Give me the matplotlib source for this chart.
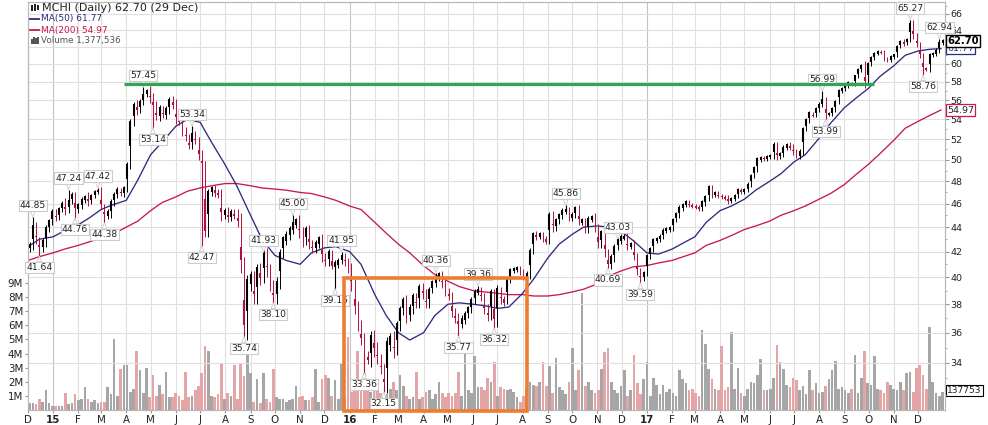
import matplotlib
matplotlib.use("Agg")
import matplotlib.pyplot as plt
import numpy as np
import pandas as pd
from matplotlib.patches import Rectangle
from matplotlib.ticker import FixedLocator, NullFormatter, FixedFormatter

# closing prices, one bar every four calendar days
closes = [
    42.5, 44.0, 43.0, 42.3, 42.8, 43.8, 44.5, 45.2, 44.8, 45.5,
    46.0, 45.5, 46.2, 46.8, 45.5, 45.8, 46.3, 46.6, 46.2, 46.7,
    47.0, 47.2, 45.8, 45.0, 45.2, 46.0, 46.8, 47.2, 46.9, 47.3,
    49.5, 53.6, 55.5, 55.0, 55.8, 56.5, 57.0, 56.2, 55.5, 54.3,
    55.0, 54.5, 54.9, 56.0, 55.6, 54.0, 53.7, 52.8, 52.2, 51.3,
    52.5, 51.8, 50.4, 49.6, 43.5, 47.0, 47.3, 47.0, 46.8, 45.0,
    45.3, 44.8, 45.2, 45.0, 44.5, 41.0, 36.2, 39.5, 40.0, 38.5,
    40.5, 40.0, 41.8, 40.5, 39.5, 38.5, 39.5, 41.8, 43.0, 43.2,
    43.8, 44.2, 44.5, 43.6, 42.8, 43.8, 42.6, 42.2, 42.6, 43.0,
    41.6, 41.2, 41.9, 40.8, 41.0, 41.2, 41.6, 41.2, 40.6, 39.5,
    37.7, 36.6, 35.5, 34.5, 34.2, 35.6, 35.0, 34.3, 33.6, 32.6,
    35.2, 35.6, 34.8, 36.5, 37.5, 38.2, 37.2, 37.6, 38.5, 38.0,
    39.2, 38.8, 38.0, 39.0, 39.6, 39.9, 40.2, 39.5, 38.9, 38.6,
    37.4, 37.0, 36.6, 36.9, 37.2, 37.7, 38.2, 38.9, 39.0, 38.5,
    37.6, 37.2, 38.8, 36.8, 39.0, 38.3, 38.2, 39.8, 40.5, 40.6,
    40.7, 40.4, 40.0, 40.2, 42.0, 43.4, 43.2, 43.4, 43.0, 42.9,
    45.0, 44.0, 44.5, 45.0, 45.3, 45.4, 44.8, 45.0, 45.6, 44.5,
    44.5, 43.8, 44.6, 44.8, 44.0, 42.6, 43.5, 42.0, 40.9, 41.5,
    42.3, 42.9, 43.1, 43.2, 42.4, 42.6, 41.6, 40.5, 39.9, 40.3,
    41.6, 42.2, 42.9, 43.0, 43.2, 43.7, 43.8, 43.9, 44.6, 45.1,
    45.6, 45.9, 46.1, 45.9, 45.8, 45.7, 45.6, 46.1, 46.5, 47.4,
    46.8, 46.9, 46.7, 46.6, 46.5, 46.3, 46.4, 46.7, 47.2, 47.1,
    47.2, 47.7, 48.5, 49.2, 50.0, 50.2, 50.1, 50.3, 50.4, 51.4,
    50.3, 50.6, 51.1, 51.4, 51.2, 50.8, 50.4, 50.7, 53.0, 53.9,
    54.6, 54.4, 55.1, 55.5, 56.0, 54.5, 54.6, 55.0, 55.8, 57.0,
    57.2, 57.6, 57.8, 57.7, 58.6, 59.3, 59.8, 57.8, 60.0, 60.7,
    61.2, 61.4, 61.3, 60.6, 60.4, 60.8, 61.0, 62.0, 62.6, 62.4,
    62.8, 64.8, 63.3, 62.3, 61.0, 59.5, 59.4, 61.0, 61.2, 61.5,
    62.4, 62.7,
]

# how far the thin wicks reach past each bar's body
wicks = [
    0.3, 0.4, 0.4, 0.2, 0.3, 0.4, 0.2, 0.3, 0.3, 0.2,
    0.2, 0.5, 0.3, 0.2, 0.2, 0.3, 0.3, 0.2, 0.4, 0.2,
    0.2, 0.1, 0.3, 0.2, 0.3, 0.4, 0.2, 0.3, 0.2, 0.3,
    0.3, 0.4, 0.3, 0.5, 0.3, 0.3, 0.2, 0.5, 0.6, 0.4,
    0.5, 0.4, 0.5, 0.3, 0.5, 0.5, 0.3, 0.5, 0.4, 0.3,
    0.3, 0.3, 0.4, 0.5, 0.3, 0.3, 0.3, 0.4, 0.3, 0.5,
    0.3, 0.4, 0.3, 0.3, 0.5, 0.7, 0.6, 0.7, 0.5, 0.5,
    0.5, 0.6, 0.4, 0.5, 0.5, 0.3, 0.5, 0.4, 0.3, 0.5,
    0.3, 0.4, 0.3, 0.5, 0.4, 0.3, 0.4, 0.3, 0.3, 0.3,
    0.4, 0.3, 0.3, 0.2, 0.3, 0.3, 0.2, 0.3, 0.3, 0.5,
    0.4, 0.5, 0.3, 0.5, 0.3, 0.5, 0.6, 0.4, 0.3, 0.3,
    0.5, 0.4, 0.5, 0.3, 0.4, 0.3, 0.5, 0.4, 0.3, 0.3,
    0.3, 0.4, 0.3, 0.3, 0.2, 0.3, 0.2, 0.3, 0.3, 0.3,
    0.3, 0.3, 0.4, 0.3, 0.3, 0.2, 0.3, 0.2, 0.2, 0.3,
    0.3, 0.4, 0.3, 0.3, 0.4, 0.3, 0.3, 0.2, 0.2, 0.2,
    0.2, 0.2, 0.2, 0.3, 0.3, 0.2, 0.3, 0.2, 0.2, 0.3,
    0.3, 0.4, 0.3, 0.2, 0.3, 0.2, 0.3, 0.3, 0.2, 0.3,
    0.3, 0.3, 0.3, 0.2, 0.4, 0.3, 0.3, 0.4, 0.2, 0.3,
    0.3, 0.2, 0.3, 0.2, 0.3, 0.2, 0.3, 0.3, 0.2, 0.2,
    0.2, 0.2, 0.2, 0.2, 0.2, 0.2, 0.2, 0.2, 0.2, 0.2,
    0.3, 0.2, 0.2, 0.2, 0.2, 0.2, 0.2, 0.2, 0.3, 0.3,
    0.3, 0.2, 0.2, 0.2, 0.2, 0.3, 0.2, 0.2, 0.2, 0.2,
    0.2, 0.2, 0.2, 0.2, 0.3, 0.2, 0.2, 0.2, 0.2, 0.3,
    0.3, 0.2, 0.3, 0.2, 0.3, 0.3, 0.2, 0.3, 0.2, 0.2,
    0.3, 0.2, 0.2, 0.3, 0.2, 0.3, 0.2, 0.3, 0.2, 0.2,
    0.2, 0.2, 0.3, 0.2, 0.2, 0.2, 0.2, 0.5, 0.2, 0.2,
    0.2, 0.2, 0.2, 0.3, 0.2, 0.2, 0.2, 0.2, 0.2, 0.3,
    0.2, 0.2, 0.4, 0.3, 0.3, 0.3, 0.2, 0.3, 0.2, 0.3,
    0.2, 0.2,
]

# volume in millions, same bars
volume = [
    0.5, 0.5, 0.4, 0.8, 0.6, 1.4, 0.5, 0.3, 0.3, 0.3,
    0.3, 1.2, 0.4, 0.5, 1.1, 0.7, 0.8, 1.6, 0.8, 0.6,
    0.7, 0.5, 0.6, 0.6, 1.6, 1.1, 5.0, 1.0, 2.9, 3.2,
    3.2, 1.3, 1.5, 4.2, 2.8, 1.2, 3.0, 0.9, 2.5, 1.0,
    1.8, 1.1, 2.7, 0.9, 0.9, 1.2, 1.0, 0.7, 2.7, 0.9,
    1.0, 1.4, 1.7, 2.6, 4.5, 4.2, 1.0, 0.9, 1.1, 3.3,
    0.8, 1.2, 1.0, 3.2, 0.8, 3.3, 2.4, 3.9, 2.6, 0.6,
    2.2, 0.5, 2.6, 0.8, 0.6, 2.9, 0.9, 0.8, 0.8, 0.6,
    0.7, 0.8, 1.7, 0.9, 1.0, 0.7, 0.7, 0.9, 2.9, 0.6,
    2.2, 2.5, 2.3, 1.0, 2.1, 0.8, 3.3, 0.9, 5.2, 1.3,
    1.4, 4.2, 1.5, 2.6, 1.4, 1.3, 1.4, 1.7, 1.2, 0.8,
    1.1, 1.5, 2.0, 1.4, 2.5, 1.7, 1.0, 0.8, 0.9, 2.7,
    0.8, 0.9, 1.3, 1.4, 0.8, 1.1, 2.0, 1.2, 0.9, 1.2,
    1.0, 1.2, 2.7, 1.0, 4.5, 1.4, 1.2, 3.8, 1.6, 1.6,
    1.4, 2.3, 2.0, 3.4, 1.0, 1.6, 1.5, 1.4, 1.5, 1.3,
    0.9, 0.6, 1.0, 1.5, 2.0, 1.8, 1.7, 2.0, 3.4, 1.7,
    3.1, 1.2, 3.7, 1.6, 1.4, 1.1, 2.0, 4.4, 1.4, 2.8,
    8.3, 1.7, 2.0, 1.4, 1.2, 1.4, 2.9, 4.1, 4.4, 2.0,
    1.4, 1.2, 1.7, 2.8, 1.0, 1.4, 3.9, 1.9, 1.1, 2.2,
    3.4, 1.0, 2.3, 1.8, 1.1, 1.8, 1.3, 1.5, 1.2, 1.0,
    2.8, 2.2, 1.9, 1.4, 1.5, 1.2, 1.0, 5.7, 4.7, 2.9,
    2.2, 1.5, 1.4, 4.5, 1.4, 1.6, 5.5, 1.5, 3.0, 1.2,
    1.0, 1.5, 2.0, 1.9, 2.5, 3.6, 1.4, 1.4, 1.5, 2.3,
    4.6, 3.4, 2.9, 1.8, 1.6, 2.3, 2.1, 1.4, 1.7, 1.1,
    2.8, 1.4, 1.9, 1.2, 1.3, 1.7, 2.2, 2.8, 3.5, 1.5,
    1.6, 1.4, 1.2, 1.5, 3.9, 1.2, 2.3, 4.2, 1.9, 1.8,
    3.8, 1.5, 1.4, 1.2, 2.0, 1.8, 1.5, 1.4, 2.0, 1.4,
    2.6, 2.7, 1.3, 3.0, 3.2, 2.5, 1.5, 5.9, 2.0, 1.2,
    1.0, 1.3,
]

# moving averages, read on the 1st and 15th of each month
ma50 = [
    42.4, 43.0, 43.2, 43.7, 44.2, 44.8, 45.5, 45.9, 46.3, 48.1,
    50.5, 51.7, 53.3, 54.0, 53.7, 51.7, 49.5, 47.6, 45.0, 43.0,
    41.7, 41.3, 41.0, 41.9, 42.3, 42.4, 42.0, 41.0, 38.7, 37.2,
    36.0, 35.5, 36.0, 37.2, 38.0, 38.1, 38.0, 37.9, 37.7, 37.8,
    38.8, 39.9, 41.5, 42.6, 43.4, 44.0, 44.1, 44.0, 43.6, 42.9,
    41.9, 41.8, 42.2, 42.7, 43.2, 44.4, 45.4, 45.8, 46.4, 47.2,
    48.0, 48.7, 49.8, 50.5, 52.1, 53.6, 55.2, 56.2, 57.3, 58.6,
    59.8, 61.0, 61.5, 61.7, 61.77,
]
ma200 = [
    41.3, 41.6, 41.9, 42.2, 42.5, 42.8, 43.1, 43.4, 44.0, 44.5,
    45.4, 46.1, 46.6, 47.1, 47.4, 47.6, 47.8, 47.8, 47.6, 47.4,
    47.3, 47.2, 47.0, 46.9, 46.6, 46.3, 45.8, 45.5, 44.4, 43.5,
    42.6, 41.9, 40.9, 40.2, 39.7, 39.3, 39.0, 38.9, 38.8, 38.7,
    38.7, 38.6, 38.6, 38.7, 38.9, 39.1, 39.5, 40.1, 40.5, 40.8,
    40.9, 41.1, 41.3, 41.6, 41.9, 42.5, 42.9, 43.3, 43.8, 44.1,
    44.5, 45.0, 45.4, 45.8, 46.4, 46.9, 47.7, 48.6, 49.6, 50.6,
    51.9, 53.1, 53.8, 54.4, 54.97,
]

# labelled highs and lows: bar number, price, label above the bar?
peak_bars = [1, 3, 12, 14, 21, 23, 35, 38, 50, 53, 66, 72, 75, 81, 94, 96,
             103, 109, 125, 132, 138, 143, 165, 178, 181, 188, 245, 244,
             271, 280, 275]
peak_values = [44.85, 41.64, 47.24, 44.76, 47.42, 44.38, 57.45, 53.14, 53.34,
               42.47, 35.74, 41.93, 38.10, 45.00, 39.15, 41.95, 33.36, 32.15,
               40.36, 35.77, 39.36, 36.32, 45.86, 40.69, 43.03, 39.59, 53.99,
               56.99, 65.27, 62.94, 58.76]
peak_above = [1, 0, 1, 0, 1, 0, 1, 0, 1, 0, 0, 1, 0, 1, 0, 1, 0, 0, 1, 0, 1,
              0, 1, 0, 1, 0, 0, 1, 1, 1, 0]

price_ticks = [34, 36, 38, 40, 42, 44, 46, 48, 50, 52, 54, 56, 58, 60, 62, 64, 66]
volume_ticks = [1, 2, 3, 4, 5, 6, 7, 8, 9]
month_labels = ["D", "15", "F", "M", "A", "M", "J", "J", "A", "S", "O", "N", "D",
                "16", "F", "M", "A", "M", "J", "J", "A", "S", "O", "N", "D",
                "17", "F", "M", "A", "M", "J", "J", "A", "S", "O", "N", "D"]

black = "#000000"
crimson = "#b0103f"
navy = "#2b2b80"
ma_red = "#c8184f"
orange = "#ed7d31"
green = "#2aa854"
text_col = "#222222"

W, H = 988, 425
dates = pd.date_range("2014-12-03", periods=len(closes), freq="4D")
ma_dates = pd.date_range("2014-12-01", "2017-12-15", freq="SMS").append(pd.DatetimeIndex(["2017-12-29"]))
months = pd.date_range("2014-12-01", "2017-12-01", freq="MS")

fig = plt.figure(figsize=(W / 100, H / 100), dpi=100)
ax_vol = fig.add_axes([28 / W, 15 / H, 917 / W, 408 / H])
ax = ax_vol.twinx()
ax.set_zorder(ax_vol.get_zorder() + 1)
ax.patch.set_visible(False)

closes_arr = np.array(closes)
wicks_arr = np.array(wicks)
opens = np.r_[42.3, closes_arr[:-1]]
up = closes_arr >= opens
colors = np.where(up, black, crimson)

# volume
vol_colors = np.where(up, "#a6a6a6", "#e3a5a5")
ax_vol.bar(dates, volume, width=3.3, color=vol_colors, linewidth=0)
ax_vol.set_ylim(0, 28.9)
ax_vol.set_yticks(volume_ticks)
ax_vol.set_yticklabels([f"{v}M" for v in volume_ticks], fontsize=7.4, color=text_col)

# candles: thin wick over the whole range, short thick body near the close
ax.set_yscale("log")
lows = np.minimum(opens, closes_arr) - wicks_arr
highs = np.maximum(opens, closes_arr) + wicks_arr
body_start = (opens + closes_arr) / 2
ax.vlines(dates, lows, highs, colors=colors, linewidth=0.7, zorder=3)
ax.vlines(dates, body_start - wicks_arr / 2, closes_arr + wicks_arr / 2, colors=colors, linewidth=1.5, zorder=3)
for i, v in zip(peak_bars, peak_values):
    ax.vlines(dates[i], min(v, closes_arr[i]), max(v, closes_arr[i]),
              colors=colors[i], linewidth=0.8, zorder=3)

# moving averages
ax.plot(ma_dates, ma200, color=ma_red, linewidth=0.95, zorder=2)
ax.plot(ma_dates, ma50, color=navy, linewidth=0.95, zorder=2)

ax.set_xlim(pd.Timestamp("2014-12-01"), pd.Timestamp("2018-01-03"))
ax.set_ylim(31.08, 67.5)
ax.yaxis.set_major_locator(FixedLocator(price_ticks))
ax.yaxis.set_major_formatter(FixedFormatter([str(p) for p in price_ticks]))
ax.yaxis.set_minor_locator(FixedLocator(np.arange(32, 68)))
ax.yaxis.set_minor_formatter(NullFormatter())
ax.tick_params(axis="y", which="major", labelsize=6.8, length=3, color="#999999", pad=1, labelcolor=text_col)
ax.tick_params(axis="y", which="minor", length=1.5, color="#999999")

ax_vol.set_xticks(months)
ax_vol.set_xticklabels(month_labels, fontsize=7.4, color=text_col)
for lab, txt in zip(ax_vol.get_xticklabels(), month_labels):
    if txt.isdigit():
        lab.set_fontweight("bold")
ax_vol.tick_params(axis="x", length=2, color="#999999", pad=1.5)
ax_vol.tick_params(axis="y", length=2, color="#999999", pad=1.5)

# grid
ax_vol.set_axisbelow(True)
for m, txt in zip(months, month_labels):
    ax_vol.axvline(m, color="#c4c4c4" if txt.isdigit() else "#e0e0e0", linewidth=0.8, zorder=0)
for p in price_ticks:
    ax.axhline(p, color="#e0e0e0", linewidth=0.8, zorder=0)

for a in (ax, ax_vol):
    for s in a.spines.values():
        s.set_color("#b8b8b8")
        s.set_linewidth(0.8)

# peak labels
for i, v, above in zip(peak_bars, peak_values, peak_above):
    offset = 8.4 if above else -8.4
    ax.annotate(f"{v:.2f}", xy=(dates[i], v), xytext=(0, offset), textcoords="offset points",
                ha="center", va="center", fontsize=6.6, color=text_col, zorder=5,
                bbox=dict(boxstyle="square,pad=0.12", fc="white", ec="#cccccc", lw=0.8),
                arrowprops=dict(arrowstyle="wedge,tail_width=0.5,shrink_factor=0.5", fc="white",
                                ec="#cccccc", lw=0.6, shrinkA=0, shrinkB=0))

# green resistance line
ax.plot([dates[29], dates[260]], [57.8, 57.8], color=green, linewidth=2.3, zorder=6, solid_capstyle="butt")

# orange box
fig.add_artist(Rectangle((343.5 / W, 1 - 411 / H), 183 / W, 133 / H, transform=fig.transFigure,
                         fill=False, edgecolor=orange, linewidth=2.6, zorder=7))

# legend text
ax.text(42, H - 8, "MCHI (Daily) 62.70 (29 Dec)", transform=None, fontsize=8, color=text_col, va="center")
ax.text(41, H - 19, "MA(50) 61.77", transform=None, fontsize=6.5, color=navy, va="center")
ax.text(41, H - 30, "MA(200) 54.97", transform=None, fontsize=6.5, color=ma_red, va="center")
ax.text(41, H - 41, "Volume 1,377,536", transform=None, fontsize=6.3, color="#555555", va="center")
fig.add_artist(plt.Line2D([30 / W, 39 / W], [1 - 19 / H, 1 - 19 / H], color=navy, linewidth=1.3))
fig.add_artist(plt.Line2D([30 / W, 39 / W], [1 - 30 / H, 1 - 30 / H], color=ma_red, linewidth=1.3))
for px, top in zip([31, 33, 35, 37], [39, 37, 38, 37]):
    fig.add_artist(Rectangle((px / W, 1 - 44 / H), 1.5 / W, (44 - top) / H, transform=fig.transFigure,
                             color="#555555", linewidth=0))
for px, top, bot in zip([31, 34, 37], [5, 4, 5], [11, 11, 10]):
    fig.add_artist(Rectangle((px / W, 1 - bot / H), 1.6 / W, (bot - top) / H, transform=fig.transFigure,
                             color=text_col, linewidth=0))

# last value tags on the right axis
tag_kw = dict(xycoords="data", textcoords="offset pixels", va="center", ha="left", annotation_clip=False)
last = pd.Timestamp("2017-12-29")
ax.annotate("61.77", xy=(last, 61.77), xytext=(6, 0), fontsize=6.8, color=navy, zorder=8,
            bbox=dict(boxstyle="square,pad=0.12", fc="white", ec=navy, lw=0.9), **tag_kw)
ax.annotate("62.70", xy=(last, 62.7), xytext=(6, 0), fontsize=7.2, fontweight="bold", color=black, zorder=9,
            bbox=dict(boxstyle="square,pad=0.12", fc="white", ec=black, lw=1.0), **tag_kw)
ax.annotate("54.97", xy=(last, 54.97), xytext=(6, 0), fontsize=6.8, color=text_col, zorder=8,
            bbox=dict(boxstyle="square,pad=0.12", fc="white", ec=ma_red, lw=0.9), **tag_kw)
ax_vol.annotate("137753", xy=(last, 1.377), xytext=(6, 0), fontsize=6.6, color=text_col, zorder=9,
                bbox=dict(boxstyle="square,pad=0.12", fc="white", ec=black, lw=0.8), **tag_kw)

fig.savefig("out.png", dpi=100)
